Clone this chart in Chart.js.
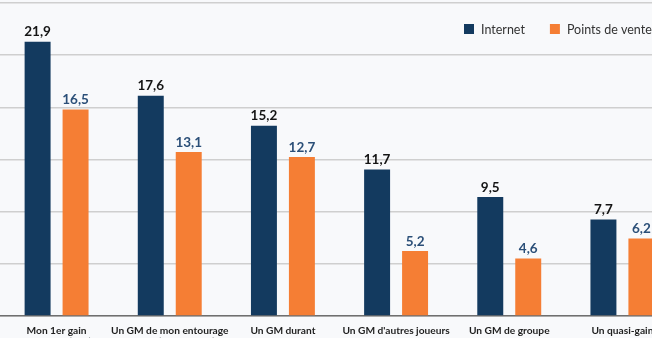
<!DOCTYPE html>
<html>
<head>
<meta charset="utf-8">
<style>
	html, body { margin: 0; padding: 0; background: #f8f9fb; overflow: hidden; }
	#wrap { position: relative; width: 679px; height: 350px; }
</style>
<script src="https://cdn.jsdelivr.net/npm/chart.js@4/dist/chart.umd.min.js"></script>
</head>
<body>
<div id="wrap"><canvas id="myChart"></canvas></div>
<script>
const categories = [
	['Mon 1er gain', 'important (GM)'],
	['Un GM de mon entourage', 'proche (ami, famille)'],
	'Un GM durant',
	["Un GM d'autres joueurs", 'au point de vente'],
	'Un GM de groupe',
	'Un quasi-gain'
];
const internet = [21.9, 17.6, 15.2, 11.7, 9.5, 7.7];
const pointsDeVente = [16.5, 13.1, 12.7, 5.2, 4.6, 6.2];

const NAVY = '#133a5f';
const ORANGE = '#f57e34';
const FONT = 'Lato, "Open Sans", sans-serif';

// numbers above each bar, french decimal comma
const valueLabels = {
	id: 'valueLabels',
	afterDatasetsDraw(chart) {
		const ctx = chart.ctx;
		const colors = ['#141414', '#2b4f78'];
		ctx.save();
		ctx.font = 'bold 13.5px ' + FONT;
		ctx.textAlign = 'center';
		ctx.textBaseline = 'bottom';
		chart.data.datasets.forEach((ds, i) => {
			ctx.fillStyle = colors[i];
			chart.getDatasetMeta(i).data.forEach((bar, j) => {
				ctx.fillText(String(ds.data[j]).replace('.', ','), bar.x, bar.y - 3);
			});
		});
		ctx.restore();
	}
};

// small legend sitting inside the plot, top right
const cornerLegend = {
	id: 'cornerLegend',
	afterDraw(chart) {
		const ctx = chart.ctx;
		let x = 464;
		const y = 24;
		ctx.save();
		ctx.font = '12.5px ' + FONT;
		ctx.textBaseline = 'middle';
		chart.data.datasets.forEach(ds => {
			ctx.fillStyle = ds.backgroundColor;
			ctx.fillRect(x, y, 10, 10);
			x += 17;
			ctx.fillStyle = '#333333';
			ctx.fillText(ds.label, x, y + 5.5);
			x += ctx.measureText(ds.label).width + 25;
		});
		ctx.restore();
	}
};

const ctx = document.getElementById('myChart').getContext('2d');
const myChart = new Chart(ctx, {
	type: 'bar',
	data: {
		labels: categories,
		datasets: [
			{
				label: 'Internet',
				data: internet,
				backgroundColor: NAVY,
				categoryPercentage: 0.671,
				barPercentage: 0.684
			},
			{
				label: 'Points de vente',
				data: pointsDeVente,
				backgroundColor: ORANGE,
				categoryPercentage: 0.671,
				barPercentage: 0.684
			}
		]
	},
	options: {
		responsive: true,
		maintainAspectRatio: false,
		animation: false,
		layout: { padding: { top: 3, left: 0, right: 0, bottom: 0 } },
		plugins: {
			legend: { display: false },
			tooltip: { enabled: false }
		},
		scales: {
			x: {
				grid: { display: false },
				border: { display: true, color: '#6f6f6f', width: 1.5 },
				ticks: {
					color: '#1e1e1e',
					font: { family: FONT, size: 10.2, weight: 'bold', lineHeight: 1.12 },
					padding: 1,
					maxRotation: 0,
					autoSkip: false
				},
				afterFit: s => { s.height = 34; }
			},
			y: {
				min: 0,
				max: 25,
				ticks: { display: false, count: 7 },
				grid: { color: '#cfcfcf', lineWidth: 1.5, drawTicks: false },
				border: { display: false },
				afterFit: s => { s.width = 0; }
			}
		}
	},
	plugins: [valueLabels, cornerLegend]
});
</script>
</body>
</html>
